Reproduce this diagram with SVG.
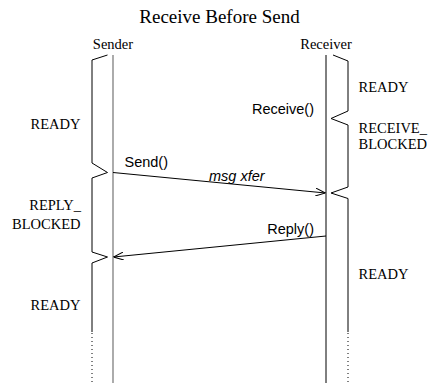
<svg xmlns="http://www.w3.org/2000/svg" width="429" height="383" viewBox="0 0 429 383">
  <style>
    .serif { font-family: "Liberation Serif", "Times New Roman", serif; fill: #000; }
    .sans { font-family: "Liberation Sans", Arial, sans-serif; fill: #000; }
    .lbl { font-size: 14.5px; }
    .brace { fill: none; stroke: #000; stroke-width: 1; }
    .dots { fill: none; stroke: #000; stroke-width: 1; stroke-dasharray: 1 3; }
    .msg { fill: none; stroke: #000; stroke-width: 1; }
  </style>
  <defs>
    <marker id="open" viewBox="0 0 10 8" refX="10" refY="4" markerWidth="10" markerHeight="8" markerUnits="userSpaceOnUse" orient="auto">
      <path d="M0,0 L10,4 L0,8" fill="none" stroke="#000" stroke-width="1"/>
    </marker>
  </defs>

  <rect width="429" height="383" fill="#fff"/>

  <text class="serif" x="219.5" y="23" font-size="19" text-anchor="middle">Receive Before Send</text>

  <g id="sender">
    <text class="serif lbl" x="113" y="49" text-anchor="middle">Sender</text>
    <line x1="113" y1="55" x2="113" y2="383" stroke="#888" stroke-width="1.4"/>
    <path class="brace" d="M107.5,55 L92,60 L92,163 L107.5,172.5 L92,178 L92,252 L107.5,257 L92,263 L92,332"/>
    <line class="dots" x1="92" y1="333" x2="92" y2="383"/>
    <text class="serif lbl" x="80.5" y="128.5" text-anchor="end">READY</text>
    <text class="serif lbl" x="81" y="210" text-anchor="end">REPLY_</text>
    <text class="serif lbl" x="80.5" y="228.5" text-anchor="end">BLOCKED</text>
    <text class="serif lbl" x="80.5" y="310" text-anchor="end">READY</text>
  </g>

  <g id="receiver">
    <text class="serif lbl" x="326" y="49" text-anchor="middle">Receiver</text>
    <line x1="326" y1="55" x2="326" y2="383" stroke="#000" stroke-width="1"/>
    <path class="brace" d="M333,55 L348,61 L348,111 L331,118.5 L348,125 L348,187 L331,193 L348,198.5 L348,332"/>
    <line class="dots" x1="348" y1="333" x2="348" y2="383"/>
    <text class="serif lbl" x="358.5" y="92">READY</text>
    <text class="serif lbl" x="358.5" y="133">RECEIVE_</text>
    <text class="serif lbl" x="358.5" y="148.5">BLOCKED</text>
    <text class="serif lbl" x="358.5" y="278.5">READY</text>
  </g>

  <g id="connectors">
    <line class="msg" x1="113" y1="172.5" x2="325.5" y2="193" marker-end="url(#open)"/>
    <line class="msg" x1="326" y1="236" x2="113.5" y2="257" marker-end="url(#open)"/>
    <text class="sans lbl" x="314" y="113.5" text-anchor="end">Receive()</text>
    <text class="sans lbl" x="124.5" y="166.5">Send()</text>
    <text class="sans lbl" x="209" y="181" font-style="italic">msg xfer</text>
    <text class="sans lbl" x="314" y="233.5" text-anchor="end">Reply()</text>
  </g>
</svg>
